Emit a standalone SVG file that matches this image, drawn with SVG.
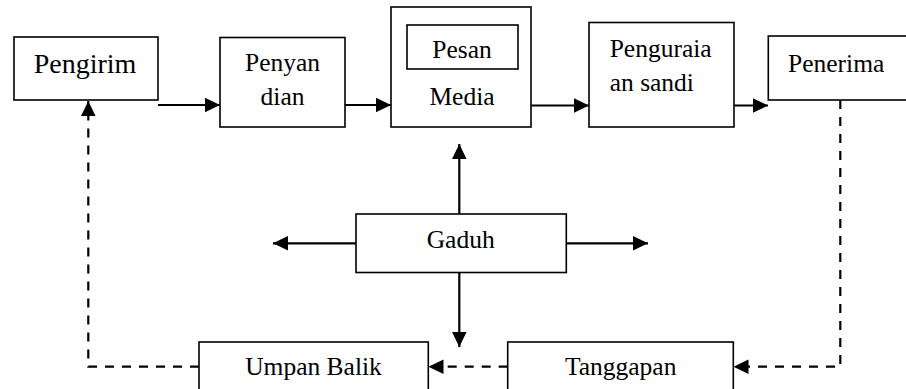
<svg xmlns="http://www.w3.org/2000/svg" width="906" height="389" viewBox="0 0 906 389">
<style>
.box{fill:#fff;stroke:#000;stroke-width:1.6}
.t{font-family:"Liberation Serif","Times New Roman",serif;font-size:25.5px;fill:#000}
.c{text-anchor:middle}
.ln{fill:none;stroke:#000;stroke-width:2.2}
.ds{fill:none;stroke:#000;stroke-width:2.2;stroke-dasharray:9 8}
</style>
<defs>
<marker id="ah" markerUnits="userSpaceOnUse" markerWidth="16" markerHeight="15" refX="15" refY="7.25" orient="auto">
<path d="M0,0 L15,7.25 L0,14.5 z" fill="#000"/>
</marker>
</defs>
<rect width="906" height="389" fill="#fff"/>
<g id="connectors">
<line class="ln" x1="158" y1="105" x2="220" y2="105" marker-end="url(#ah)"/>
<line class="ln" x1="345" y1="105" x2="391" y2="105" marker-end="url(#ah)"/>
<line class="ln" x1="531" y1="105.5" x2="589" y2="105.5" marker-end="url(#ah)"/>
<line class="ln" x1="734" y1="105.5" x2="768" y2="105.5" marker-end="url(#ah)"/>
<line class="ln" x1="459.3" y1="214" x2="459.3" y2="144" marker-end="url(#ah)"/>
<line class="ln" x1="459.3" y1="272.5" x2="459.3" y2="347" marker-end="url(#ah)"/>
<line class="ln" x1="356" y1="243.3" x2="273" y2="243.3" marker-end="url(#ah)"/>
<line class="ln" x1="566" y1="243.3" x2="648" y2="243.3" marker-end="url(#ah)"/>
<polyline class="ds" points="840.3,100 840.3,366.7 733.5,366.7" marker-end="url(#ah)"/>
<line class="ds" x1="507.7" y1="366.7" x2="428.5" y2="366.7" marker-end="url(#ah)"/>
<polyline class="ds" points="199,366.7 88.3,366.7 88.3,101" marker-end="url(#ah)"/>
</g>
<g id="pengirim">
<rect class="box" x="14" y="37" width="144" height="63"/>
<text class="t c" x="85" y="73" style="font-size:28px">Pengirim</text>
</g>
<g id="penyandian">
<rect class="box" x="220" y="37.5" width="125" height="89.5"/>
<text class="t c" x="282.5" y="71">Penyan</text>
<text class="t c" x="282.5" y="105">dian</text>
</g>
<g id="media">
<rect class="box" x="391" y="7" width="140" height="120"/>
<rect class="box" x="407" y="25" width="111" height="44"/>
<text class="t c" x="462" y="58">Pesan</text>
<text class="t c" x="462" y="105">Media</text>
</g>
<g id="penguraian">
<rect class="box" x="589" y="22.5" width="145" height="104.5"/>
<text class="t" x="609.7" y="56.7">Penguraia</text>
<text class="t" x="609.7" y="90.7">an sandi</text>
</g>
<g id="penerima">
<rect class="box" x="768.3" y="36" width="160" height="64"/>
<text class="t" x="788" y="71.5">Penerima</text>
</g>
<g id="gaduh">
<rect class="box" x="356" y="214" width="210.3" height="58.5"/>
<text class="t c" x="460.7" y="248">Gaduh</text>
</g>
<g id="umpan-balik">
<rect class="box" x="199" y="342" width="229.3" height="60"/>
<text class="t c" x="313.5" y="375">Umpan Balik</text>
</g>
<g id="tanggapan">
<rect class="box" x="507.7" y="342" width="225.6" height="60"/>
<text class="t c" x="620.7" y="375">Tanggapan</text>
</g>
</svg>
